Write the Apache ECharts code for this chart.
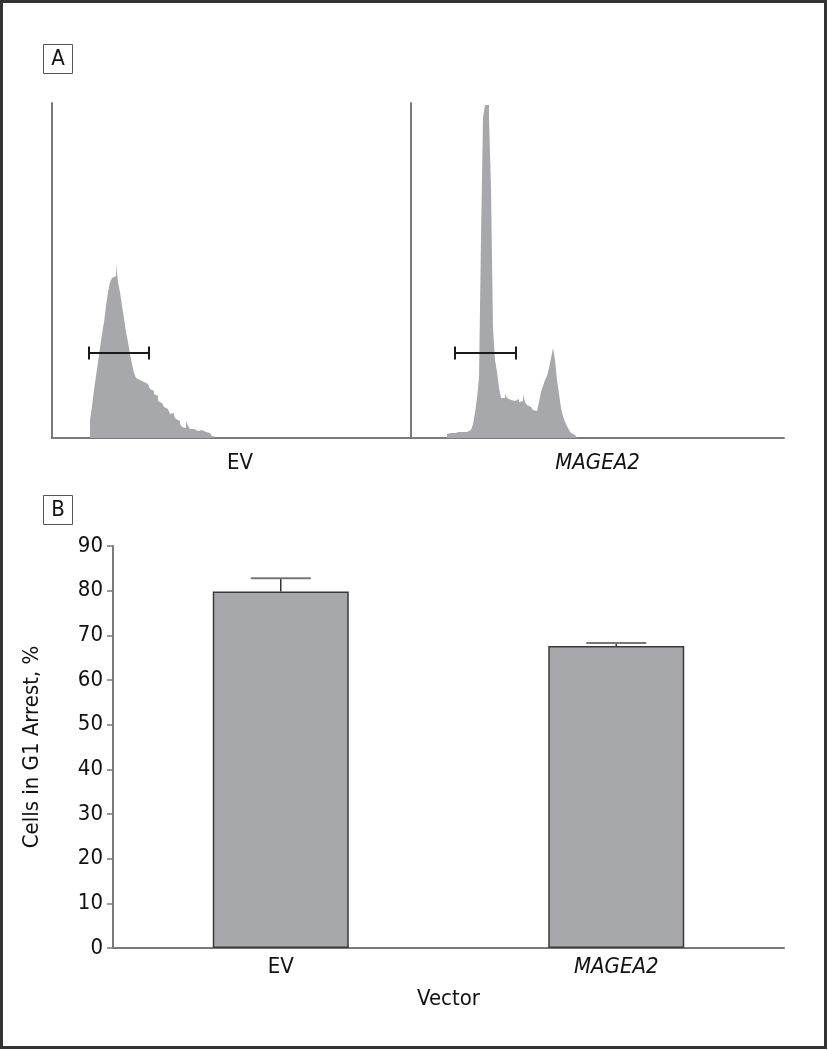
<!DOCTYPE html>
<html>
<head>
<meta charset="utf-8">
<script src="https://cdn.jsdelivr.net/npm/echarts@6/dist/echarts.min.js"></script>
<style>
  html, body { margin: 0; padding: 0; background: #fff; }
  #chart { width: 828px; height: 1050px; }
</style>
</head>
<body>
<div id="chart"></div>
<script>
// histogram panels (A): counts per 2px channel bin
const histNames = ['EV', 'MAGEA2'];
const evStart = 19;
const evCounts = [18, 32, 48, 62, 76, 90, 104, 116, 132, 146, 156, 160, 162, 174, 156, 146,
  132, 120, 106, 96, 84, 74, 65, 60, 58, 57, 56, 55, 54, 52, 49, 47, 44, 42, 37, 35, 33, 31,
  29, 27, 24, 25, 22, 19, 17, 14, 11, 10, 17, 12, 9, 9, 9, 7, 8, 8, 6, 6, 5, 5, 4, 2, 1];
const magStart = 18;
const magCounts = [4, 5, 3, 5, 4, 6, 5, 6, 6, 6, 7, 8, 9, 14, 25, 40, 60, 200, 320, 333, 333,
  320, 250, 110, 78, 66, 50, 40, 40, 44, 40, 38, 40, 37, 37, 39, 36, 37, 44, 36, 33, 31, 29,
  28, 27, 27, 36, 46, 52, 58, 62, 70, 80, 90, 78, 58, 44, 30, 22, 16, 12, 8, 5, 3, 1];
// gates [start, end, level]
const evGate = [18.5, 48.5, 85];
const magGate = [22, 52.5, 85];

// bar panel (B)
const vectors = ['EV', 'MAGEA2'];
const g1Arrest = [79.8, 67.6];
const g1Err = [3.0, 0.7];
const yTicks = { min: 0, max: 90, interval: 10 };

const font = "'DejaVu Sans Condensed', 'Liberation Sans', sans-serif";
const axisGray = '#7a7a7a';
const fillGray = '#a7a8ab';

function histData(start, counts) {
  const d = counts.map((c, i) => [start + i, c]);
  d.push([start + counts.length, 0]);
  return d;
}

function gateSeries(idx, gate) {
  return {
    type: 'line',
    xAxisIndex: idx,
    yAxisIndex: idx,
    data: [[gate[0], gate[2]], [gate[1], gate[2]]],
    symbol: 'rect',
    symbolSize: [2, 13],
    itemStyle: { color: '#1a1a1a' },
    lineStyle: { color: '#1a1a1a', width: 2 },
    silent: true,
    z: 5
  };
}

const chart = echarts.init(document.getElementById('chart'));

const histX = (idx, max) => ({
  type: 'value',
  gridIndex: idx,
  min: 0,
  max: max,
  name: histNames[idx],
  nameLocation: 'middle',
  nameGap: 14,
  nameTextStyle: {
    fontFamily: font, fontSize: 22, color: '#111',
    fontStyle: idx === 1 ? 'italic' : 'normal',
    padding: idx === 0 ? [0, 0, 0, 16] : 0
  },
  axisLine: { lineStyle: { color: axisGray, width: 2 } },
  axisTick: { show: false },
  axisLabel: { show: false },
  splitLine: { show: false }
});

const histY = idx => ({
  type: 'value',
  gridIndex: idx,
  min: 0,
  max: 335,
  axisLine: { show: true, lineStyle: { color: axisGray, width: 2 } },
  axisTick: { show: false },
  axisLabel: { show: false },
  splitLine: { show: false }
});

chart.setOption({
  animation: false,
  backgroundColor: '#fff',
  graphic: [
    { type: 'rect', shape: { x: 1.5, y: 1.5, width: 824, height: 1046 },
      style: { fill: 'none', stroke: '#333', lineWidth: 3 } },
    { type: 'rect', shape: { x: 43.5, y: 44.5, width: 29, height: 29 },
      style: { fill: '#fff', stroke: '#555', lineWidth: 1 } },
    { type: 'text', x: 58, y: 59,
      style: { text: 'A', font: '22px ' + font, fill: '#111', align: 'center', verticalAlign: 'middle' } },
    { type: 'rect', shape: { x: 43.5, y: 495.5, width: 29, height: 29 },
      style: { fill: '#fff', stroke: '#555', lineWidth: 1 } },
    { type: 'text', x: 58, y: 510,
      style: { text: 'B', font: '22px ' + font, fill: '#111', align: 'center', verticalAlign: 'middle' } }
  ],
  grid: [
    { left: 52, top: 103, width: 360, height: 335 },
    { left: 411, top: 103, width: 373, height: 335 },
    { left: 113, top: 546, width: 671, height: 402 }
  ],
  xAxis: [
    histX(0, 180),
    histX(1, 186.5),
    {
      type: 'category',
      gridIndex: 2,
      data: vectors,
      name: 'Vector',
      nameLocation: 'middle',
      nameGap: 40,
      nameTextStyle: { fontFamily: font, fontSize: 22, color: '#111' },
      axisLine: { lineStyle: { color: axisGray, width: 2 } },
      axisTick: { show: false },
      axisLabel: {
        margin: 8,
        fontFamily: font,
        fontSize: 22,
        color: '#111',
        formatter: v => (v === 'MAGEA2' ? '{it|' + v + '}' : v),
        rich: { it: { fontFamily: font, fontSize: 22, color: '#111', fontStyle: 'italic' } }
      }
    }
  ],
  yAxis: [
    histY(0),
    histY(1),
    {
      type: 'value',
      gridIndex: 2,
      min: yTicks.min,
      max: yTicks.max,
      interval: yTicks.interval,
      name: 'Cells in G1 Arrest, %',
      nameLocation: 'middle',
      nameGap: 70,
      nameTextStyle: { fontFamily: font, fontSize: 22, color: '#111' },
      axisLine: { show: true, lineStyle: { color: axisGray, width: 2 } },
      axisTick: { show: true, length: 6, lineStyle: { color: axisGray, width: 1.5 } },
      axisLabel: { margin: 10, fontFamily: font, fontSize: 22, color: '#111' },
      splitLine: { show: false }
    }
  ],
  series: [
    {
      type: 'line',
      xAxisIndex: 0,
      yAxisIndex: 0,
      data: histData(evStart, evCounts),
      step: 'end',
      symbol: 'none',
      lineStyle: { width: 0 },
      areaStyle: { color: fillGray, opacity: 1 },
      silent: true
    },
    {
      type: 'line',
      xAxisIndex: 1,
      yAxisIndex: 1,
      data: histData(magStart, magCounts),
      step: 'end',
      symbol: 'none',
      lineStyle: { width: 0 },
      areaStyle: { color: fillGray, opacity: 1 },
      silent: true
    },
    gateSeries(0, evGate),
    gateSeries(1, magGate),
    {
      type: 'bar',
      xAxisIndex: 2,
      yAxisIndex: 2,
      data: g1Arrest,
      barWidth: 136,
      itemStyle: { color: fillGray, borderColor: '#3a3a3a', borderWidth: 1.5 },
      silent: true
    },
    {
      type: 'custom',
      xAxisIndex: 2,
      yAxisIndex: 2,
      data: g1Arrest.map((v, i) => [i, v, v + g1Err[i]]),
      renderItem: function (params, api) {
        const base = api.coord([api.value(0), api.value(1)]);
        const top = api.coord([api.value(0), api.value(2)]);
        return {
          type: 'group',
          children: [
            { type: 'line', shape: { x1: base[0], y1: base[1], x2: top[0], y2: top[1] },
              style: { stroke: '#333', lineWidth: 1.5 } },
            { type: 'line', shape: { x1: top[0] - 30, y1: top[1], x2: top[0] + 30, y2: top[1] },
              style: { stroke: '#777', lineWidth: 2 } }
          ]
        };
      },
      silent: true,
      z: 3
    }
  ]
});
</script>
</body>
</html>
